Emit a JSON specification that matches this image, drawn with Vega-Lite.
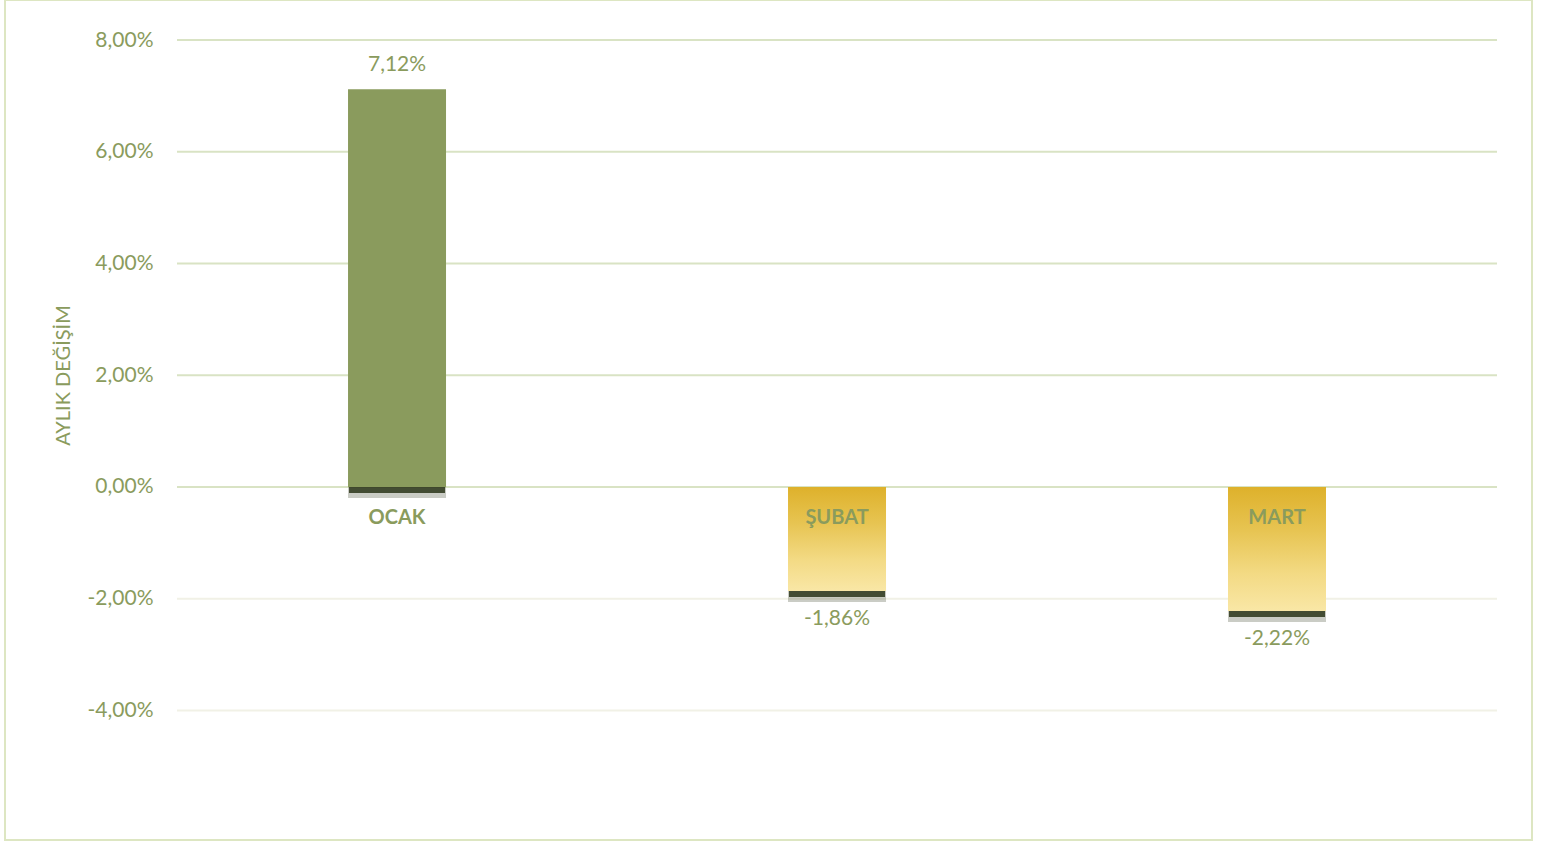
{
  "$schema": "https://vega.github.io/schema/vega-lite/v6.json",
  "width": 1527,
  "height": 840,
  "padding": {"left": 5, "top": 0, "right": 10, "bottom": 1},
  "background": "white",
  "config": {
    "view": {"stroke": "#DDE6C2", "strokeWidth": 2},
    "font": "Lato",
    "locale": {
      "number": {"decimal": ",", "thousands": ".", "grouping": [3], "currency": ["", " TL"], "percent": "%", "minus": "-"}
    }
  },
  "data": {
    "values": [
      {"month": "OCAK", "value": 0.0712},
      {"month": "ŞUBAT", "value": -0.0186},
      {"month": "MART", "value": -0.0222}
    ]
  },
  "resolve": {"scale": {"x": "independent"}},
  "layer": [
    {
      "data": {"values": [{"tick": -0.04}, {"tick": -0.02}, {"tick": 0}, {"tick": 0.02}, {"tick": 0.04}, {"tick": 0.06}, {"tick": 0.08}]},
      "mark": {"type": "rule", "strokeWidth": 2},
      "encoding": {
        "x": {"datum": -0.5, "type": "quantitative", "scale": {"domain": [-0.8909, 2.5795], "nice": false, "zero": false}, "axis": null},
        "x2": {"datum": 2.5},
        "y": {
          "field": "tick", "type": "quantitative", "title": "AYLIK DEĞİŞİM",
          "scale": {"domain": [-0.063177, 0.087159], "nice": false, "zero": false},
          "axis": {
            "values": [-0.04, -0.02, 0, 0.02, 0.04, 0.06, 0.08],
            "format": ".2%",
            "grid": false, "ticks": false, "domain": false,
            "offset": -173,
            "labelPadding": 25,
            "labelFont": "Lato", "labelFontSize": 21, "labelColor": "#8A9B5D",
            "title": "AYLIK DEĞİŞİM",
            "titleFont": "Lato", "titleFontSize": 20, "titleFontWeight": "normal", "titleColor": "#8A9B5D",
            "titlePadding": 14,
            "titleY": 375
          }
        },
        "color": {
          "condition": {"test": "datum.tick >= 0", "value": "#D9E3C4"},
          "value": "#F1F1E6"
        }
      }
    },
    {
      "layer": [
        {
          "transform": [{"filter": "datum.value >= 0"}],
          "mark": {"type": "tick", "orient": "horizontal", "size": 98, "thickness": 22, "color": "#2B3519", "opacity": 0.25},
          "encoding": {
            "x": {"field": "month", "type": "nominal", "sort": ["OCAK", "ŞUBAT", "MART"], "scale": {"type": "band", "domain": ["OCAK", "ŞUBAT", "MART"], "paddingInner": 0.77727, "paddingOuter": 0.6239, "align": 0.6248}, "axis": null},
            "y": {"datum": 0, "type": "quantitative", "title": "AYLIK DEĞİŞİM", "scale": {"domain": [-0.063177, 0.087159], "nice": false, "zero": false}}
          }
        },
        {
          "transform": [{"filter": "datum.value >= 0"}],
          "mark": {"type": "tick", "orient": "horizontal", "size": 96, "thickness": 12, "color": "#2B3519", "opacity": 0.85},
          "encoding": {
            "x": {"field": "month", "type": "nominal", "sort": ["OCAK", "ŞUBAT", "MART"], "scale": {"type": "band", "domain": ["OCAK", "ŞUBAT", "MART"], "paddingInner": 0.77727, "paddingOuter": 0.6239, "align": 0.6248}, "axis": null},
            "y": {"datum": 0, "type": "quantitative", "title": "AYLIK DEĞİŞİM", "scale": {"domain": [-0.063177, 0.087159], "nice": false, "zero": false}}
          }
        },
        {
          "transform": [{"filter": "datum.value < 0"}],
          "mark": {"type": "tick", "orient": "horizontal", "size": 98, "thickness": 22, "color": "#2B3519", "opacity": 0.25},
          "encoding": {
            "x": {"field": "month", "type": "nominal", "sort": ["OCAK", "ŞUBAT", "MART"], "scale": {"type": "band", "domain": ["OCAK", "ŞUBAT", "MART"], "paddingInner": 0.77727, "paddingOuter": 0.6239, "align": 0.6248}, "axis": null},
            "y": {"field": "value", "type": "quantitative", "title": "AYLIK DEĞİŞİM", "scale": {"domain": [-0.063177, 0.087159], "nice": false, "zero": false}}
          }
        },
        {
          "transform": [{"filter": "datum.value < 0"}],
          "mark": {"type": "tick", "orient": "horizontal", "size": 96, "thickness": 12, "color": "#2B3519", "opacity": 0.85},
          "encoding": {
            "x": {"field": "month", "type": "nominal", "sort": ["OCAK", "ŞUBAT", "MART"], "scale": {"type": "band", "domain": ["OCAK", "ŞUBAT", "MART"], "paddingInner": 0.77727, "paddingOuter": 0.6239, "align": 0.6248}, "axis": null},
            "y": {"field": "value", "type": "quantitative", "title": "AYLIK DEĞİŞİM", "scale": {"domain": [-0.063177, 0.087159], "nice": false, "zero": false}}
          }
        },
        {
          "transform": [{"filter": "datum.value >= 0"}],
          "mark": {"type": "bar", "color": "#8A9B5D"},
          "encoding": {
            "x": {"field": "month", "type": "nominal", "sort": ["OCAK", "ŞUBAT", "MART"], "scale": {"type": "band", "domain": ["OCAK", "ŞUBAT", "MART"], "paddingInner": 0.77727, "paddingOuter": 0.6239, "align": 0.6248}, "axis": null},
            "y": {"field": "value", "type": "quantitative", "title": "AYLIK DEĞİŞİM", "scale": {"domain": [-0.063177, 0.087159], "nice": false, "zero": false}}
          }
        },
        {
          "transform": [{"filter": "datum.value < 0"}],
          "mark": {
            "type": "bar",
            "color": {
              "gradient": "linear", "x1": 0, "y1": 0, "x2": 0, "y2": 1,
              "stops": [
                {"offset": 0, "color": "#DEB12B"},
                {"offset": 0.35, "color": "#E7C452"},
                {"offset": 0.7, "color": "#F3DA84"},
                {"offset": 1, "color": "#F9E7A6"}
              ]
            }
          },
          "encoding": {
            "x": {"field": "month", "type": "nominal", "sort": ["OCAK", "ŞUBAT", "MART"], "scale": {"type": "band", "domain": ["OCAK", "ŞUBAT", "MART"], "paddingInner": 0.77727, "paddingOuter": 0.6239, "align": 0.6248}, "axis": null},
            "y": {"field": "value", "type": "quantitative", "title": "AYLIK DEĞİŞİM", "scale": {"domain": [-0.063177, 0.087159], "nice": false, "zero": false}}
          }
        },
        {
          "mark": {"type": "text", "font": "Lato", "fontSize": 20, "fontWeight": "bold", "color": "#8A9B5D", "baseline": "middle", "align": "center", "dy": 31},
          "encoding": {
            "x": {"field": "month", "type": "nominal", "sort": ["OCAK", "ŞUBAT", "MART"], "scale": {"type": "band", "domain": ["OCAK", "ŞUBAT", "MART"], "paddingInner": 0.77727, "paddingOuter": 0.6239, "align": 0.6248}, "axis": null},
            "y": {"datum": 0, "type": "quantitative", "title": "AYLIK DEĞİŞİM", "scale": {"domain": [-0.063177, 0.087159], "nice": false, "zero": false}},
            "text": {"field": "month"}
          }
        },
        {
          "transform": [{"filter": "datum.value >= 0"}],
          "mark": {"type": "text", "font": "Lato", "fontSize": 21, "color": "#8A9B5D", "baseline": "middle", "align": "center", "dy": -24},
          "encoding": {
            "x": {"field": "month", "type": "nominal", "sort": ["OCAK", "ŞUBAT", "MART"], "scale": {"type": "band", "domain": ["OCAK", "ŞUBAT", "MART"], "paddingInner": 0.77727, "paddingOuter": 0.6239, "align": 0.6248}, "axis": null},
            "y": {"field": "value", "type": "quantitative", "title": "AYLIK DEĞİŞİM", "scale": {"domain": [-0.063177, 0.087159], "nice": false, "zero": false}},
            "text": {"field": "value", "type": "quantitative", "format": ".2%"}
          }
        },
        {
          "transform": [{"filter": "datum.value < 0"}],
          "mark": {"type": "text", "font": "Lato", "fontSize": 21, "color": "#8A9B5D", "baseline": "middle", "align": "center", "dy": 28},
          "encoding": {
            "x": {"field": "month", "type": "nominal", "sort": ["OCAK", "ŞUBAT", "MART"], "scale": {"type": "band", "domain": ["OCAK", "ŞUBAT", "MART"], "paddingInner": 0.77727, "paddingOuter": 0.6239, "align": 0.6248}, "axis": null},
            "y": {"field": "value", "type": "quantitative", "title": "AYLIK DEĞİŞİM", "scale": {"domain": [-0.063177, 0.087159], "nice": false, "zero": false}},
            "text": {"field": "value", "type": "quantitative", "format": ".2%"}
          }
        }
      ]
    }
  ]
}
